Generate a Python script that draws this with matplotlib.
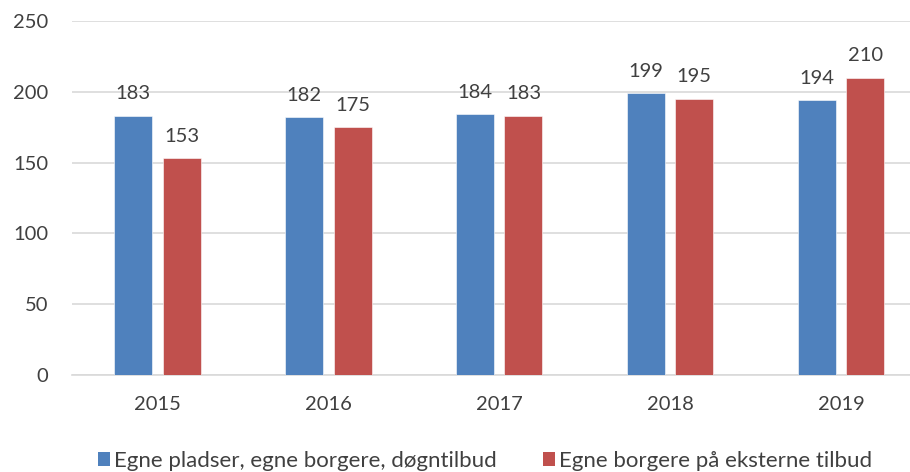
import matplotlib
matplotlib.use("Agg")
import matplotlib.pyplot as plt
import numpy as np
from matplotlib.patches import Patch

years = ["2015", "2016", "2017", "2018", "2019"]
series_names = ["Egne pladser, egne borgere, døgntilbud", "Egne borgere på eksterne tilbud"]
own_places = [183, 182, 184, 199, 194]
external = [153, 175, 183, 195, 210]
y_ticks = [0, 50, 100, 150, 200, 250]

colors = ["#4F81BD", "#C0504D"]
text_color = "#404040"
plt.rcParams['font.family'] = ['Lato', 'DejaVu Sans']

W, H = 910, 472
fig = plt.figure(figsize=(W / 100, H / 100), dpi=100)
left, right, top, bottom = 72, 926.5, 21, 375
ax = fig.add_axes([left / W, (H - bottom) / H, (right - left) / W, (bottom - top) / H])

x = np.arange(len(years))
bw = 0.222
gap = 0.061
off = (bw + gap) / 2
b1 = ax.bar(x - off, own_places, bw, color=colors[0], edgecolor="white", linewidth=0.4, zorder=3)
b2 = ax.bar(x + off, external, bw, color=colors[1], edgecolor="white", linewidth=0.4, zorder=3)

fs = 14.5
for bars, vals in ((b1, own_places), (b2, external)):
    for rect, v in zip(bars, vals):
        ax.annotate(str(v), (rect.get_x() + rect.get_width() / 2, v), xytext=(0, 12),
                    textcoords="offset points", ha="center", va="baseline",
                    fontsize=fs, color=text_color)

ax.set_xlim(-0.5, len(years) - 0.5)
ax.set_ylim(0, 250)
ax.set_yticks(y_ticks)
ax.set_yticklabels([str(t) for t in y_ticks])
ax.set_xticks(x)
ax.set_xticklabels(years)
ax.tick_params(axis="both", length=0, labelsize=fs, colors=text_color)
ax.tick_params(axis="y", pad=17)
ax.tick_params(axis="x", pad=15)
ax.grid(axis="y", color="#D9D9D9", linewidth=1.2, zorder=0)
for s in ["top", "right", "left"]:
    ax.spines[s].set_visible(False)
ax.spines["bottom"].set_color("#D9D9D9")
ax.spines["bottom"].set_linewidth(1.2)

handles = [Patch(facecolor=colors[0]), Patch(facecolor=colors[1])]
fig.legend(handles, series_names, loc="center", bbox_to_anchor=(485 / W, 1 - 461 / H),
           ncol=2, frameon=False, fontsize=16, labelcolor=text_color,
           handlelength=0.55, handleheight=0.55, handletextpad=0.15, columnspacing=2.1,
           borderaxespad=0, borderpad=0)

fig.savefig("out.png", dpi=100)
